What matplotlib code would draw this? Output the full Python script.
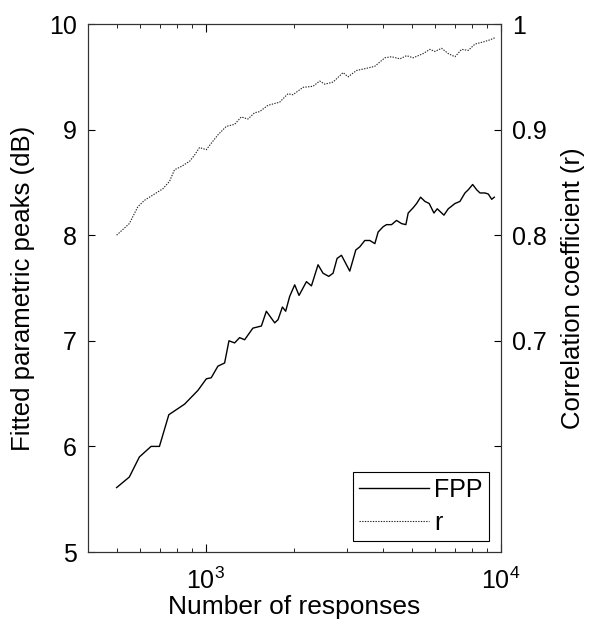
import matplotlib
matplotlib.use("Agg")
from matplotlib import pyplot as plt
from matplotlib.ticker import LogLocator, NullFormatter

plt.rcParams['font.family'] = ['Liberation Sans', 'DejaVu Sans']
plt.rcParams['mathtext.fontset'] = 'custom'
plt.rcParams['mathtext.rm'] = 'Liberation Sans'

# FPP curve (left axis, dB)
fpp_n = [500, 552, 597, 654, 698, 751, 849, 942, 1006, 1045, 1101, 1160, 1200,
         1254, 1304, 1356, 1446, 1545, 1606, 1714, 1759, 1820, 1867, 1926, 2003,
         2072, 2195, 2282, 2403, 2498, 2612, 2701, 2787, 2884, 3077, 3225, 3327,
         3459, 3597, 3741, 3838, 3990, 4097, 4261, 4430, 4607, 4764, 4851, 5044,
         5180, 5344, 5527, 5715, 5929, 6083, 6410, 6629, 6985, 7262, 7551, 7748,
         8019, 8274, 8490, 8829, 9057, 9300, 9491]
fpp_db = [5.61, 5.71, 5.90, 6.00, 6.00, 6.30, 6.40, 6.53, 6.64, 6.65, 6.76, 6.79, 7.00,
          6.98, 7.03, 7.01, 7.12, 7.14, 7.28, 7.17, 7.20, 7.32, 7.28, 7.42, 7.53,
          7.43, 7.56, 7.52, 7.72, 7.64, 7.61, 7.64, 7.78, 7.81, 7.66, 7.86, 7.89,
          7.95, 7.95, 7.92, 8.03, 8.08, 8.10, 8.10, 8.14, 8.11, 8.10, 8.21, 8.26,
          8.30, 8.36, 8.32, 8.30, 8.21, 8.25, 8.19, 8.25, 8.30, 8.32, 8.40, 8.43,
          8.48, 8.43, 8.40, 8.40, 8.39, 8.34, 8.36]

# correlation coefficient curve (right axis)
r_n = [500, 552, 590, 621, 663, 717, 755, 785, 827, 883, 918, 954, 1006, 1045,
       1101, 1175, 1254, 1321, 1391, 1466, 1524, 1626, 1782, 1901, 1976, 2137,
       2311, 2434, 2532, 2701, 2920, 3037, 3243, 3505, 3741, 4045, 4261, 4547,
       4790, 5044, 5454, 5745, 5974, 6295, 6629, 6985, 7359, 7748, 8164, 8710,
       9178, 9544]
r_val = [0.800, 0.811, 0.827, 0.833, 0.838, 0.844, 0.851, 0.862, 0.865, 0.870, 0.876,
         0.883, 0.881, 0.887, 0.895, 0.903, 0.905, 0.912, 0.910, 0.916, 0.917, 0.923,
         0.926, 0.934, 0.933, 0.940, 0.941, 0.946, 0.943, 0.945, 0.954, 0.950, 0.956,
         0.958, 0.960, 0.968, 0.969, 0.967, 0.970, 0.968, 0.972, 0.976, 0.974, 0.977,
         0.972, 0.969, 0.976, 0.975, 0.981, 0.983, 0.985, 0.987]

r_ticks = [0.6, 0.7, 0.8, 0.9, 1.0]
r_ticklabels = ['', '0.7', '0.8', '0.9', '1']

fig = plt.figure(figsize=(5.89, 6.28), dpi=100)
ax1 = fig.add_axes([88 / 589, 1 - 552 / 628, 413 / 589, 528 / 628])
ax2 = ax1.twinx()

l1, = ax1.plot(fpp_n, fpp_db, color='black', lw=1.0, label='FPP')
l2, = ax2.plot(r_n, r_val, color='#222222', lw=0.8, ls=(0, (1.2, 1.2)), label='r')

ax1.set_xscale('log')
ax1.set_xlim(400, 10000)
ax1.set_ylim(5, 10)
ax2.set_ylim(0.5, 1.0)
ax1.set_yticks([5, 6, 7, 8, 9, 10])
ax2.set_yticks(r_ticks)
ax2.set_yticklabels(r_ticklabels)
ax1.xaxis.set_minor_locator(LogLocator(base=10, subs=range(2, 10)))
ax1.xaxis.set_minor_formatter(NullFormatter())

ax1.tick_params(axis='both', which='both', direction='in', labelsize=18, top=True, right=False)
ax1.tick_params(axis='x', which='major', length=6, pad=11)
ax1.tick_params(axis='x', which='minor', length=3)
ax1.tick_params(axis='y', length=5, pad=8)
ax2.tick_params(axis='y', direction='in', labelsize=18, length=5, pad=8)

for ax in (ax1, ax2):
    for s in ax.spines.values():
        s.set_linewidth(0.8)
        s.set_color('#333333')

ax1.set_xlabel('Number of responses', fontsize=19, labelpad=1)
ax1.set_ylabel('Fitted parametric peaks (dB)', fontsize=18.5, labelpad=10)
ax2.set_ylabel('Correlation coefficient (r)', fontsize=18.5, labelpad=10)

leg = ax2.legend([l1, l2], ['FPP', 'r'], loc='lower right',
                 bbox_to_anchor=(0.971, 0.021), borderaxespad=0, fancybox=False,
                 edgecolor='black', fontsize=18, handlelength=2.8, handletextpad=0.2,
                 borderpad=0.25, labelspacing=0.35, framealpha=1)
leg.get_frame().set_linewidth(0.8)

fig.savefig('out.png', dpi=100)
